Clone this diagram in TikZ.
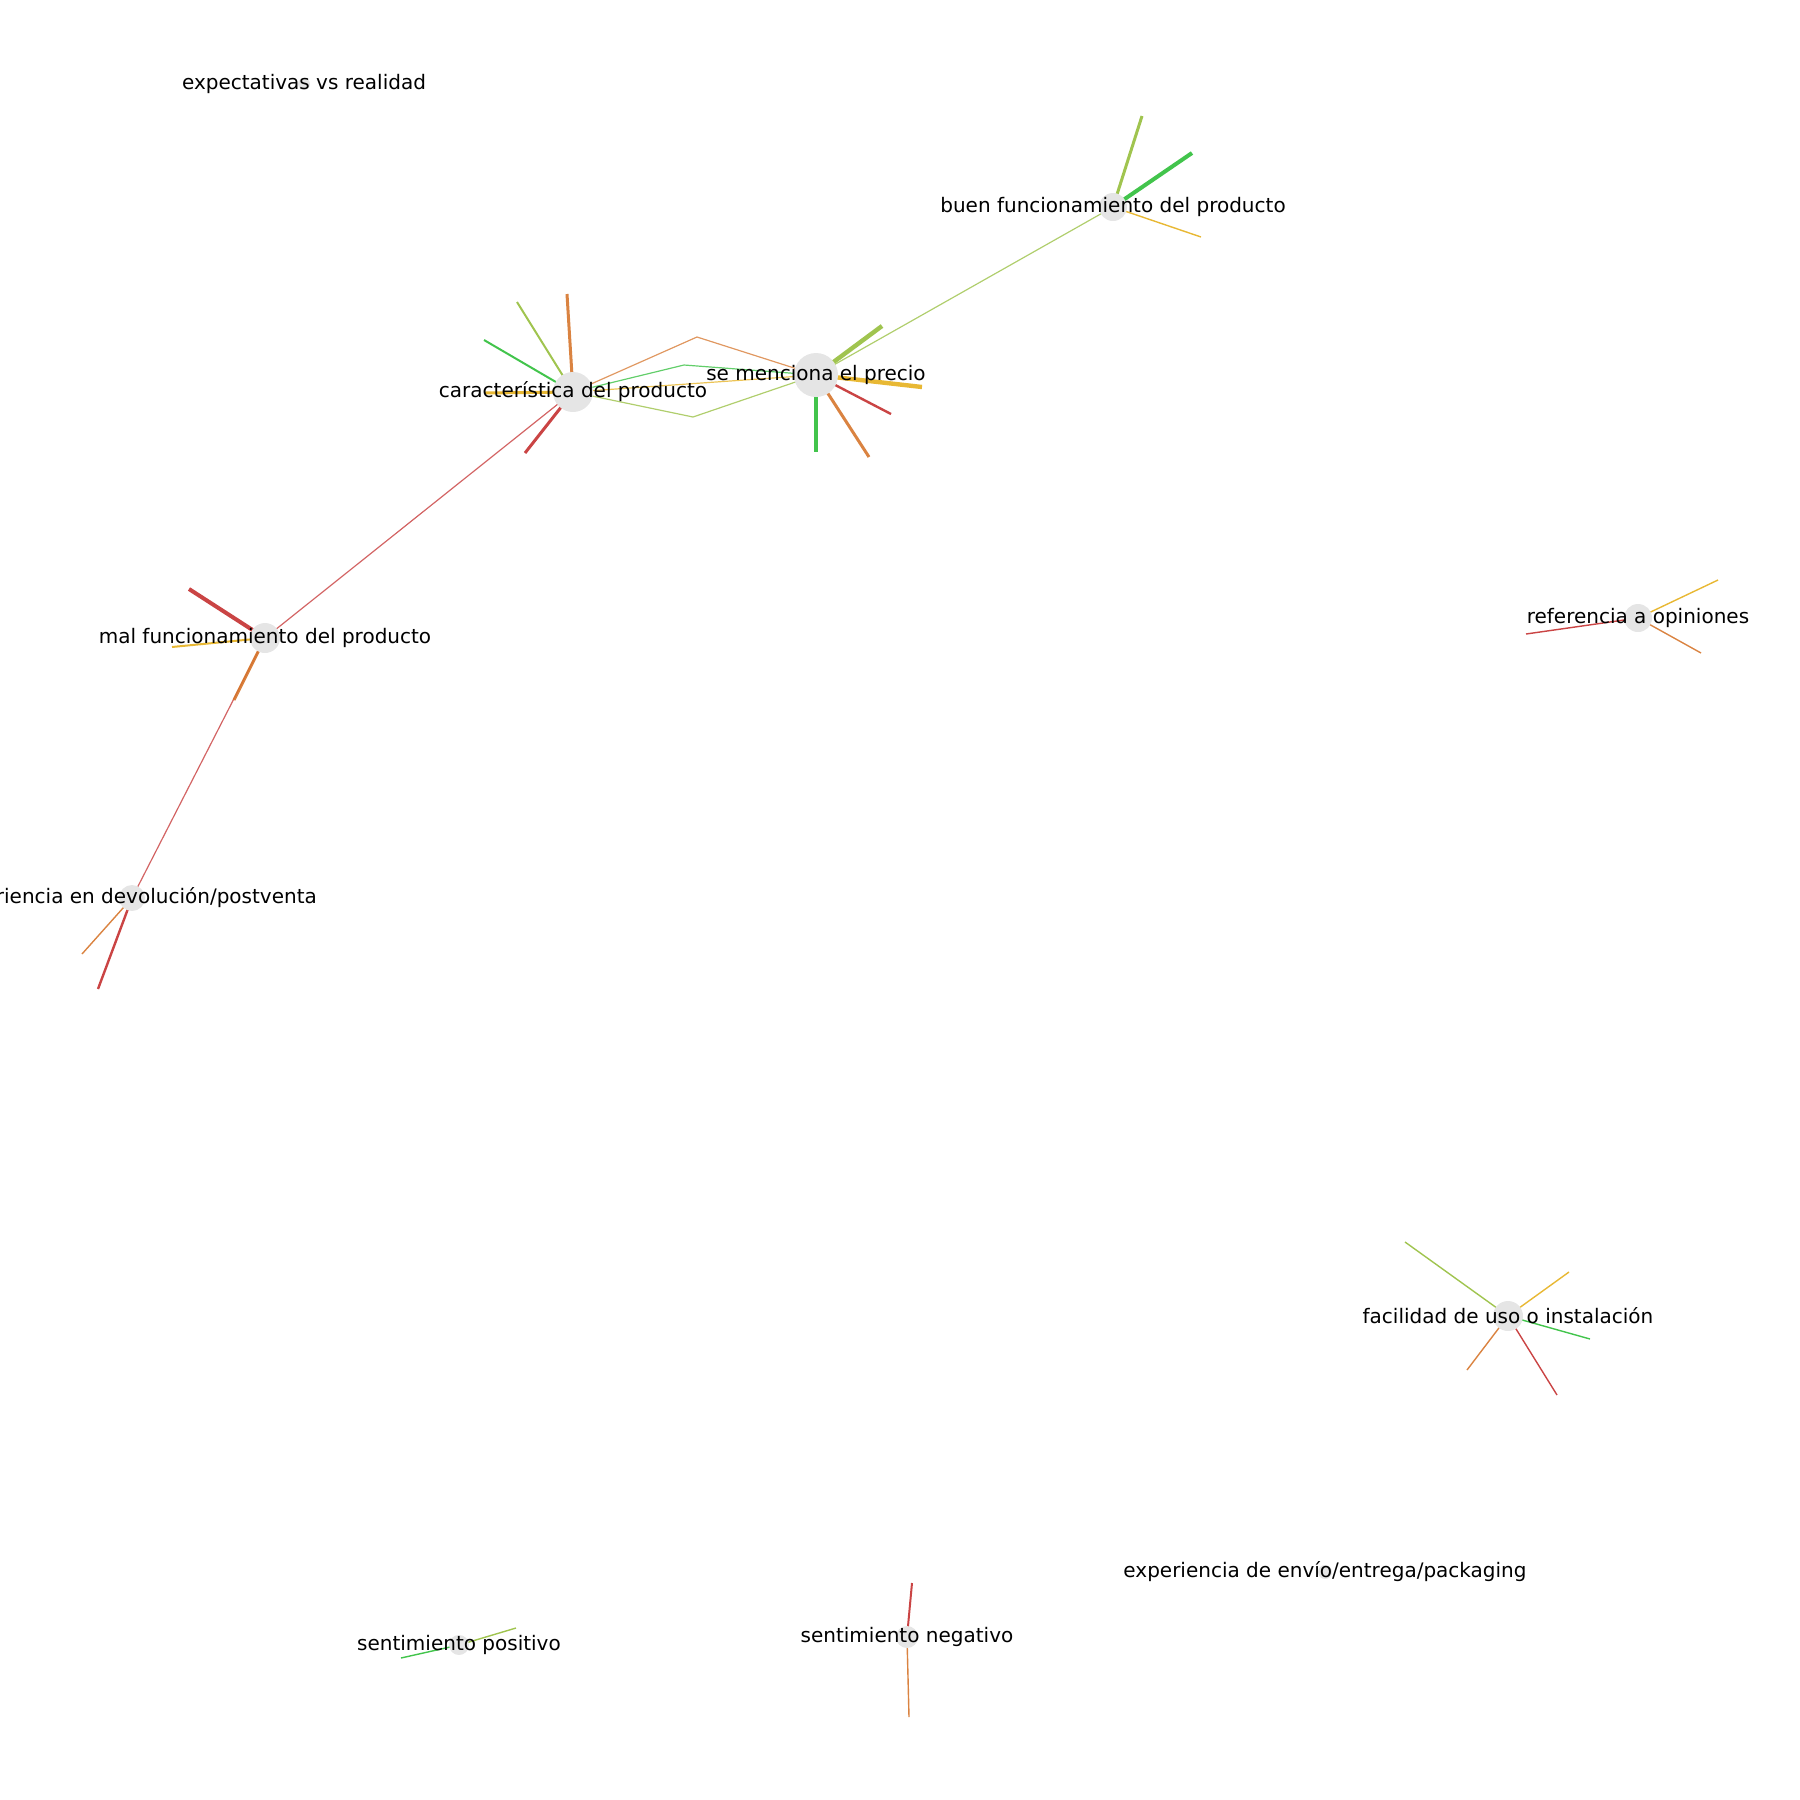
\documentclass[tikz,border=0pt]{standalone}
\usepackage{fontspec}
\setmainfont{DejaVu Sans}
\usetikzlibrary{backgrounds}
\definecolor{sgreen}{RGB}{46,190,56}
\definecolor{sygreen}{RGB}{150,190,60}
\definecolor{sgold}{RGB}{230,176,30}
\definecolor{sorange}{RGB}{214,118,44}
\definecolor{sred}{RGB}{196,48,48}

\begin{document}
\begin{tikzpicture}[
  x=0.5pt, y=-0.5pt,
  font=\fontsize{10}{12}\selectfont,
  topic/.style={circle, fill=black!10, draw=none, inner sep=0pt, minimum size=#1},
  link/.style={line width=0.6pt, draw opacity=0.75},
  spoke/.style={line width=#1, draw opacity=0.9}
]
\useasboundingbox (0,0) rectangle (1800,1800);

% topics
\node[topic=22pt, label=center:se menciona el precio] (precio) at (816,375) {};
\node[topic=20pt, label=center:característica del producto] (caract) at (573,392) {};
\node[topic=14pt, label=center:buen funcionamiento del producto] (buenfunc) at (1113,207) {};
\node[topic=15pt, label=center:mal funcionamiento del producto] (malfunc) at (265,638) {};
\node[topic=13pt, label=center:experiencia en devolución/postventa] (devol) at (132,898) {};
\node[topic=14pt, label=center:referencia a opiniones] (opin) at (1638,618) {};
\node[topic=15pt, label=center:facilidad de uso o instalación] (facil) at (1508,1316) {};
\node[topic=10pt, label=center:sentimiento positivo] (sentpos) at (459,1645) {};
\node[topic=11pt, label=center:sentimiento negativo] (sentneg) at (907,1637) {};
\node[topic=7pt, label=center:experiencia de envío/entrega/packaging] (envio) at (1325,1572) {};
\node[topic=6pt, label=center:expectativas vs realidad] (expect) at (304,84) {};

% bends between caract and precio
\coordinate (bendA) at (697,337);
\coordinate (bendB) at (684,365);
\coordinate (bendC) at (693,417);

% loose ends
\coordinate (caract-g) at (484,340);
\coordinate (caract-y) at (517,302);
\coordinate (caract-o) at (567,294);
\coordinate (caract-l) at (485,393);
\coordinate (caract-r) at (525,453);
\coordinate (precio-y) at (882,326);
\coordinate (precio-l) at (922,387);
\coordinate (precio-r) at (891,414);
\coordinate (precio-o) at (869,457);
\coordinate (precio-g) at (816,452);
\coordinate (buen-y) at (1142,116);
\coordinate (buen-g) at (1192,153);
\coordinate (buen-l) at (1201,237);
\coordinate (mal-r) at (189,589);
\coordinate (mal-l) at (172,647);
\coordinate (mal-o) at (234,700);
\coordinate (devol-o) at (82,954);
\coordinate (devol-r) at (98,989);
\coordinate (opin-l) at (1718,580);
\coordinate (opin-o) at (1701,653);
\coordinate (opin-r) at (1526,634);
\coordinate (facil-y) at (1405,1242);
\coordinate (facil-l) at (1569,1272);
\coordinate (facil-g) at (1590,1339);
\coordinate (facil-r) at (1557,1395);
\coordinate (facil-o) at (1467,1370);
\coordinate (pos-y) at (516,1628);
\coordinate (pos-g) at (401,1658);
\coordinate (neg-r) at (912,1583);
\coordinate (neg-o) at (909,1717);

\begin{scope}[on background layer]
\draw[link, sorange] (caract.center) -- (bendA) -- (precio.center);
\draw[link, sgreen] (caract.center) -- (bendB) -- (precio.center);
\draw[link, sgold] (caract.center) -- (precio.center);
\draw[link, sygreen] (caract.center) -- (bendC) -- (precio.center);
\draw[link, sygreen] (precio.center) -- (buenfunc.center);
\draw[link, sred] (caract.center) -- (malfunc.center);
\draw[link, sred] (malfunc.center) -- (devol.center);

\draw[spoke=1pt, sgreen] (caract.center) -- (caract-g);
\draw[spoke=1pt, sygreen] (caract.center) -- (caract-y);
\draw[spoke=1.5pt, sorange] (caract.center) -- (caract-o);
\draw[spoke=1.5pt, sgold] (caract.center) -- (caract-l);
\draw[spoke=1.5pt, sred] (caract.center) -- (caract-r);

\draw[spoke=2.2pt, sygreen] (precio.center) -- (precio-y);
\draw[spoke=2.2pt, sgold] (precio.center) -- (precio-l);
\draw[spoke=1.2pt, sred] (precio.center) -- (precio-r);
\draw[spoke=1.5pt, sorange] (precio.center) -- (precio-o);
\draw[spoke=2pt, sgreen] (precio.center) -- (precio-g);

\draw[spoke=1.5pt, sygreen] (buenfunc.center) -- (buen-y);
\draw[spoke=2pt, sgreen] (buenfunc.center) -- (buen-g);
\draw[spoke=0.7pt, sgold] (buenfunc.center) -- (buen-l);

\draw[spoke=2pt, sred] (malfunc.center) -- (mal-r);
\draw[spoke=1pt, sgold] (malfunc.center) -- (mal-l);
\draw[spoke=1.5pt, sorange] (malfunc.center) -- (mal-o);

\draw[spoke=0.7pt, sorange] (devol.center) -- (devol-o);
\draw[spoke=1.2pt, sred] (devol.center) -- (devol-r);

\draw[spoke=0.7pt, sgold] (opin.center) -- (opin-l);
\draw[spoke=0.7pt, sorange] (opin.center) -- (opin-o);
\draw[spoke=0.7pt, sred] (opin.center) -- (opin-r);

\draw[spoke=0.7pt, sygreen] (facil.center) -- (facil-y);
\draw[spoke=0.7pt, sgold] (facil.center) -- (facil-l);
\draw[spoke=0.7pt, sgreen] (facil.center) -- (facil-g);
\draw[spoke=0.7pt, sred] (facil.center) -- (facil-r);
\draw[spoke=0.7pt, sorange] (facil.center) -- (facil-o);

\draw[spoke=0.7pt, sygreen] (sentpos.center) -- (pos-y);
\draw[spoke=0.7pt, sgreen] (sentpos.center) -- (pos-g);

\draw[spoke=1pt, sred] (sentneg.center) -- (neg-r);
\draw[spoke=0.7pt, sorange] (sentneg.center) -- (neg-o);
\end{scope}
\end{tikzpicture}
\end{document}
